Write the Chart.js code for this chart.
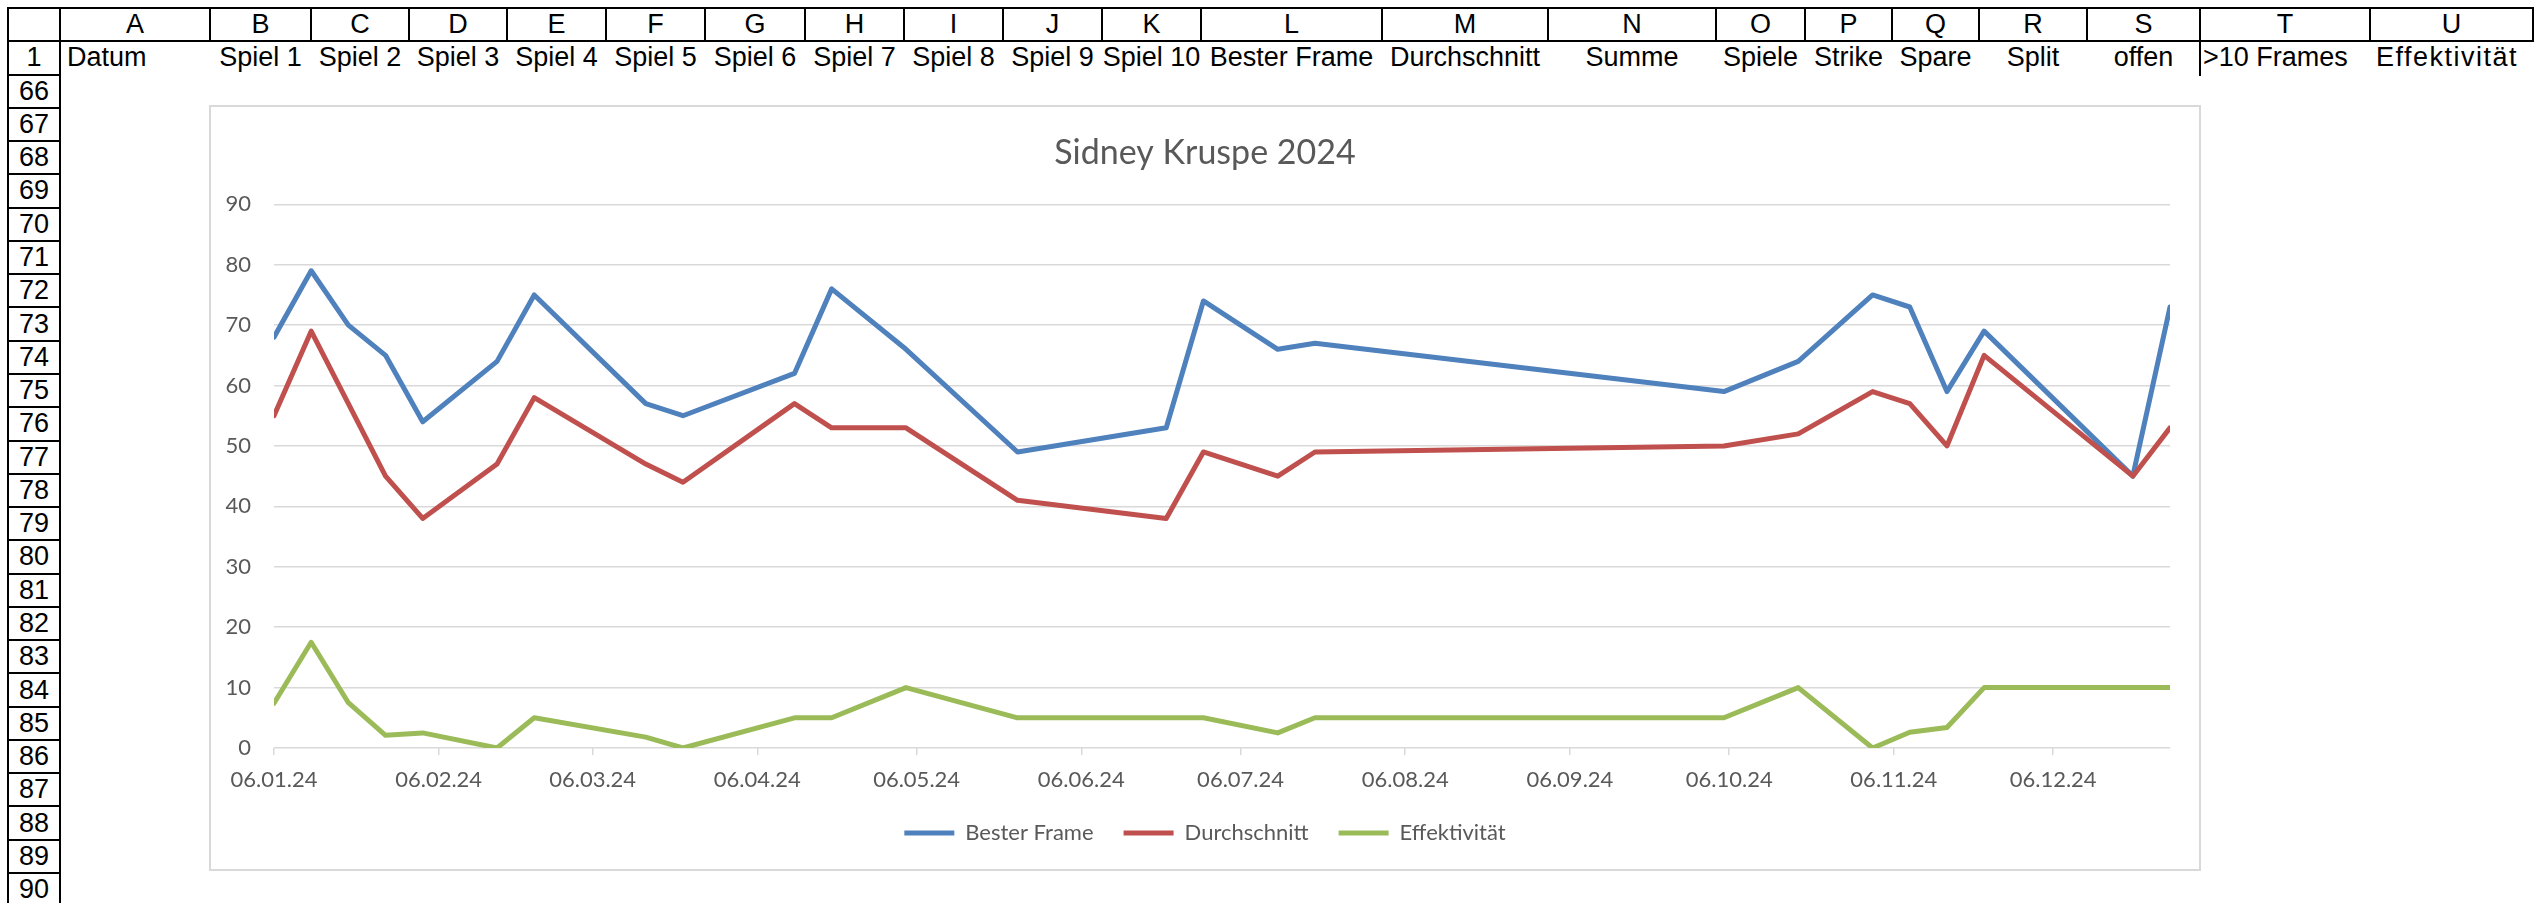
<!DOCTYPE html>
<html>
<head>
<meta charset="utf-8">
<title>Sidney Kruspe 2024</title>
<script src="https://cdn.jsdelivr.net/npm/chart.js@4.4.1/dist/chart.umd.min.js"></script>
<style>
  html, body { margin: 0; padding: 0; background: #fff; }
  body { position: relative; width: 2536px; height: 903px; overflow: hidden; font-family: "Liberation Sans", Arial, sans-serif; }
  .ln { position: absolute; background: #000; }
  .txt { position: absolute; box-sizing: border-box; font-size: 27px; color: #000; white-space: nowrap; display: flex; align-items: center; }
  #chart-box { position: absolute; left: 209px; top: 105px; width: 1992px; height: 766px; box-sizing: border-box; border: 2px solid #d9d9d9; background: #fff; }
  #chart-box canvas { display: block; }
</style>
</head>
<body>
<div id="sheet"></div>
<div id="chart-box"><canvas id="chart-bowling" width="1988" height="762"></canvas></div>

<script>
// Spieltage (Samstage), Werte
const dates = [
  '06.01.24', '13.01.24', '20.01.24', '27.01.24', '03.02.24', '17.02.24', '24.02.24',
  '16.03.24', '23.03.24', '13.04.24', '20.04.24', '04.05.24', '25.05.24', '22.06.24',
  '29.06.24', '13.07.24', '20.07.24', '05.10.24', '19.10.24', '02.11.24', '09.11.24',
  '16.11.24', '23.11.24', '21.12.24', '28.12.24'
];
const besterFrame = [68, 79, 70, 65, 54, 64, 75, 57, 55, 62, 76, 66, 49, 53, 74, 66, 67, 59, 64, 75, 73, 59, 69, 45, 73];
const durchschnitt = [55, 69, 57, 45, 38, 47, 58, 47, 44, 57, 53, 53, 41, 38, 49, 45, 49, 50, 52, 59, 57, 50, 65, 45, 53];
const effektivitaet = [7.4, 17.5, 7.5, 2.1, 2.5, 0, 5, 1.8, 0, 5, 5, 10, 5, 5, 5, 2.5, 5, 5, 10, 0, 2.6, 3.4, 10, 10, 10];

const xTickLabels = ['06.01.24', '06.02.24', '06.03.24', '06.04.24', '06.05.24', '06.06.24',
  '06.07.24', '06.08.24', '06.09.24', '06.10.24', '06.11.24', '06.12.24'];
const yMin = 0, yMax = 90, yStep = 10;

// Tabelle drumherum
const colLetters = ['A', 'B', 'C', 'D', 'E', 'F', 'G', 'H', 'I', 'J', 'K', 'L', 'M', 'N', 'O', 'P', 'Q', 'R', 'S', 'T', 'U'];
const row1Texts = ['Datum', 'Spiel 1', 'Spiel 2', 'Spiel 3', 'Spiel 4', 'Spiel 5', 'Spiel 6', 'Spiel 7', 'Spiel 8',
  'Spiel 9', 'Spiel 10', 'Bester Frame', 'Durchschnitt', 'Summe', 'Spiele', 'Strike', 'Spare', 'Split', 'offen',
  '>10 Frames', 'Effektivität'];
const rowNumbers = ['1', '66', '67', '68', '69', '70', '71', '72', '73', '74', '75', '76', '77', '78', '79', '80',
  '81', '82', '83', '84', '85', '86', '87', '88', '89', '90'];

const GRID_LEFT = 8, GRID_TOP = 8, ROW_H = 33.27, HDR_RIGHT = 60;
const colEdges = [60, 210, 311, 409, 507, 606, 705, 805, 904, 1003, 1102, 1201, 1382, 1548, 1716, 1805, 1892, 1979, 2087, 2200, 2370, 2533];

function buildSheet() {
  const sheet = document.getElementById('sheet');
  const add = (cls, css, text) => {
    const el = document.createElement('div');
    el.className = cls;
    Object.assign(el.style, css);
    if (text !== undefined) el.textContent = text;
    sheet.appendChild(el);
  };
  const lw = 2;
  const hLine = (x1, x2, y) => add('ln', { left: x1 - 1 + 'px', top: y - lw / 2 + 'px', width: x2 - x1 + 2 + 'px', height: lw + 'px' });
  const vLine = (x, y1, y2) => add('ln', { left: x - lw / 2 + 'px', top: y1 - 1 + 'px', width: lw + 'px', height: y2 - y1 + 2 + 'px' });

  const lastEdge = colEdges[colEdges.length - 1];
  // Spaltenkopf
  hLine(GRID_LEFT, lastEdge, GRID_TOP);
  hLine(GRID_LEFT, lastEdge, GRID_TOP + ROW_H);
  colEdges.forEach(x => vLine(x, GRID_TOP, GRID_TOP + ROW_H));
  colLetters.forEach((l, i) => add('txt', {
    left: colEdges[i] + 'px', top: GRID_TOP + 'px', width: colEdges[i + 1] - colEdges[i] + 'px',
    height: ROW_H + 'px', justifyContent: 'center'
  }, l));

  // Zeilenkopf
  vLine(GRID_LEFT, GRID_TOP, 910);
  vLine(HDR_RIGHT, GRID_TOP, 910);
  for (let k = 0; k <= rowNumbers.length + 1; k++) hLine(GRID_LEFT, HDR_RIGHT, GRID_TOP + k * ROW_H);
  rowNumbers.forEach((n, i) => add('txt', {
    left: GRID_LEFT + 'px', top: GRID_TOP + (i + 1) * ROW_H + 'px', width: HDR_RIGHT - GRID_LEFT + 'px',
    height: ROW_H + 'px', justifyContent: 'center'
  }, n));

  // Zeile 1
  row1Texts.forEach((t, i) => {
    const left = colEdges[i], w = colEdges[i + 1] - colEdges[i];
    let align = 'center', pad = '0', spacing = 'normal';
    if (i === 0) { align = 'flex-start'; pad = '7px'; }
    if (t === '>10 Frames') { align = 'flex-start'; pad = '3px'; }
    if (t === 'Effektivität') { align = 'flex-start'; pad = '6px'; spacing = '1.5px'; }
    add('txt', {
      left: left + 'px', top: GRID_TOP + ROW_H + 'px', width: w + 'px', height: ROW_H + 'px',
      justifyContent: align, paddingLeft: pad, letterSpacing: spacing, overflow: 'visible'
    }, t);
  });
  vLine(2200, GRID_TOP + ROW_H, GRID_TOP + 2 * ROW_H);
}

function dayNumber(s) {
  const [d, m, y] = s.split('.').map(Number);
  return Date.UTC(2000 + y, m - 1, d) / 86400000;
}

function series(values) {
  return dates.map((d, i) => ({ x: dayNumber(d), y: values[i] }));
}

buildSheet();

const textGray = '#595959';
const gridGray = '#d9d9d9';
const chartFont = 'Lato, "Open Sans", sans-serif';

const lineStyle = {
  borderWidth: 5,
  pointRadius: 0,
  pointHoverRadius: 0,
  tension: 0,
  borderCapStyle: 'round',
  borderJoinStyle: 'round',
  fill: false
};

new Chart(document.getElementById('chart-bowling'), {
  type: 'line',
  data: {
    datasets: [
      { label: 'Bester Frame', data: series(besterFrame), borderColor: '#4f81bd', backgroundColor: '#4f81bd', order: 3, ...lineStyle },
      { label: 'Durchschnitt', data: series(durchschnitt), borderColor: '#c0504d', backgroundColor: '#c0504d', order: 2, ...lineStyle },
      { label: 'Effektivität', data: series(effektivitaet), borderColor: '#9bbb59', backgroundColor: '#9bbb59', order: 1, ...lineStyle }
    ]
  },
  options: {
    responsive: false,
    animation: false,
    events: [],
    layout: { padding: { left: 0, right: 0, top: 0, bottom: 15 } },
    plugins: {
      tooltip: { enabled: false },
      title: {
        display: true,
        text: 'Sidney Kruspe 2024',
        color: textGray,
        font: { family: chartFont, size: 34, weight: 'normal' },
        padding: { top: 26, bottom: 30.5 }
      },
      legend: {
        position: 'bottom',
        labels: {
          usePointStyle: true,
          pointStyle: 'line',
          pointStyleWidth: 50,
          color: textGray,
          padding: 30,
          font: { family: chartFont, size: 22 },
          sort: (a, b) => a.datasetIndex - b.datasetIndex
        }
      }
    },
    scales: {
      x: {
        type: 'linear',
        min: dayNumber(dates[0]),
        max: dayNumber(dates[dates.length - 1]),
        afterBuildTicks: axis => {
          axis.ticks = xTickLabels.map(t => ({ value: dayNumber(t) }));
        },
        afterFit: axis => { axis.height = 44; },
        ticks: {
          autoSkip: false,
          maxRotation: 0,
          color: textGray,
          padding: 12,
          font: { family: chartFont, size: 22 },
          callback: (value, index) => xTickLabels[index]
        },
        grid: { display: true, drawOnChartArea: false, drawTicks: true, tickLength: 7, color: gridGray, lineWidth: 1.5 },
        border: { display: false }
      },
      y: {
        min: yMin,
        max: yMax,
        afterFit: axis => { axis.width = 63; },
        ticks: {
          stepSize: yStep,
          color: textGray,
          padding: 23,
          font: { family: chartFont, size: 22 }
        },
        grid: { color: gridGray, lineWidth: 1.5, drawTicks: false },
        border: { display: false }
      },
      // leerer Rand rechts, damit Titel und Legende mittig bleiben
      rightGap: {
        position: 'right',
        min: yMin,
        max: yMax,
        afterFit: axis => { axis.width = 29; },
        ticks: { display: false },
        grid: { display: false, drawTicks: false },
        border: { display: false }
      }
    }
  }
});
</script>
</body>
</html>
